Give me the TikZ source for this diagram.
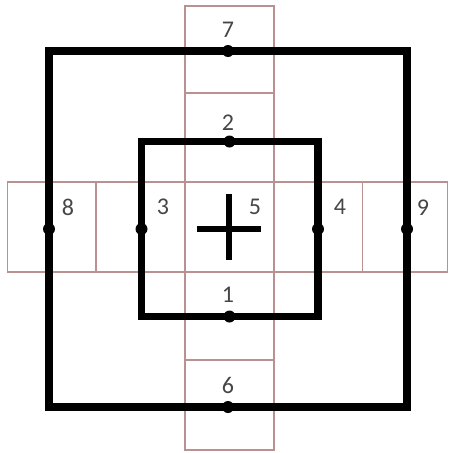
\documentclass[tikz,border=0pt]{standalone}
\usepackage{fontspec}
\setmainfont{Carlito}
\definecolor{gridc}{RGB}{185,145,145}
\definecolor{labc}{RGB}{70,70,70}
\begin{document}
\begin{tikzpicture}[x=1pt,y=-1pt,
  cell/.style={draw=gridc,line width=1.2pt},
  frame/.style={draw=black,line width=7.5pt,line join=miter},
  dot/.style={circle,fill=black,inner sep=0pt,minimum size=12pt},
  lab/.style={text=labc,font=\fontsize{24}{24}\selectfont,inner sep=0pt}]
\useasboundingbox (0,0) rectangle (449,453);
% grid cells (center column)
\draw[cell] (185,6) rectangle (274,93);
\draw[cell] (185,93) rectangle (274,182);
\draw[cell] (185,182) rectangle (274,272);
\draw[cell] (185,272) rectangle (274,360);
\draw[cell] (185,360) rectangle (274,450);
% grid cells (middle row)
\draw[cell] (7.5,182) rectangle (96,272);
\draw[cell] (96,182) rectangle (185,272);
\draw[cell] (274,182) rectangle (362.5,272);
\draw[cell] (362.5,182) rectangle (447.5,272);
% frames
\draw[frame] (49,51) rectangle (407,407);
\draw[frame] (141.5,141.5) rectangle (318,316.5);
% cross
\draw[black,line width=6pt] (197,229) -- (261,229);
\draw[black,line width=6pt] (229,194) -- (229,260);
% dots
\node[dot] (o7) at (228,51) {};
\node[dot] (o6) at (228,407) {};
\node[dot] (o8) at (49,229) {};
\node[dot] (o9) at (407,229) {};
\node[dot] (i2) at (229.5,141.5) {};
\node[dot] (i1) at (229.5,316.5) {};
\node[dot] (i3) at (141.5,229) {};
\node[dot] (i4) at (318,229) {};
\node[dot,minimum size=8pt] (c5) at (229,229) {};
% labels
\node[lab] (l7) at (228,30) {7};
\node[lab] (l2) at (228,123) {2};
\node[lab] (l1) at (228,295) {1};
\node[lab] (l6) at (228,385) {6};
\node[lab] (l8) at (68,207) {8};
\node[lab] (l3) at (163,207) {3};
\node[lab] (l5) at (255,207) {5};
\node[lab] (l4) at (340,207) {4};
\node[lab] (l9) at (423,208) {9};
\end{tikzpicture}
\end{document}
